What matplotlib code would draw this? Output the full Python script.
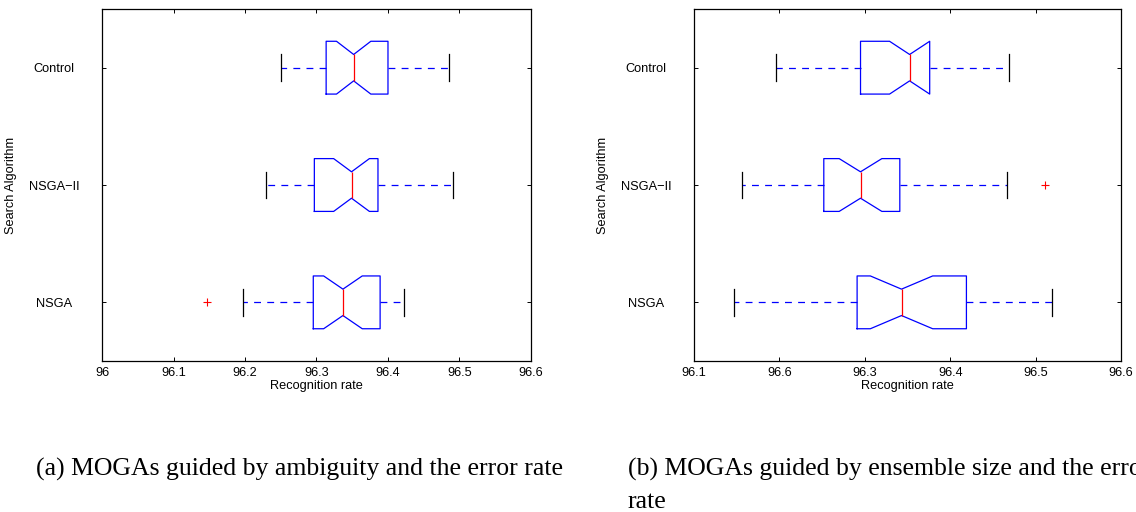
import matplotlib.pyplot as plt

# rows bottom to top
algorithms = ['NSGA', 'NSGA\u2212II', 'Control']

# (a) ambiguity + error rate
a_whislo = [96.197, 96.229, 96.251]
a_q1 = [96.2955, 96.297, 96.3135]
a_med = [96.337, 96.349, 96.352]
a_q3 = [96.389, 96.386, 96.400]
a_whishi = [96.423, 96.491, 96.485]
a_notch = [0.027, 0.025, 0.024]
a_fliers = [[96.147], [], []]
a_ticks = [96, 96.1, 96.2, 96.3, 96.4, 96.5, 96.6]
a_ticklabels = ['96', '96.1', '96.2', '96.3', '96.4', '96.5', '96.6']

# (b) ensemble size + error rate
b_whislo = [96.147, 96.156, 96.196]
b_q1 = [96.291, 96.252, 96.295]
b_med = [96.343, 96.295, 96.3525]
b_q3 = [96.419, 96.341, 96.376]
b_whishi = [96.519, 96.467, 96.469]
b_notch = [0.0365, 0.025, 0.0235]
b_fliers = [[], [96.511], []]
b_ticks = [96.1, 96.2, 96.3, 96.4, 96.5, 96.6]
b_ticklabels = ['96.1', '96.6', '96.3', '96.4', '96.5', '96.6']

caption_a = '(a) MOGAs guided by ambiguity and the error rate'
caption_b1 = '(b) MOGAs guided by ensemble size and the error'
caption_b2 = 'rate'

plt.rcParams['font.family'] = ['Liberation Sans', 'DejaVu Sans']


def make_stats(whislo, q1, med, q3, whishi, notch, fliers):
    stats = []
    for i in range(len(med)):
        stats.append({'whislo': whislo[i], 'q1': q1[i], 'med': med[i],
                      'q3': q3[i], 'whishi': whishi[i],
                      'cilo': med[i] - notch[i], 'cihi': med[i] + notch[i],
                      'fliers': fliers[i]})
    return stats


def draw_panel(ax, stats, ticks, ticklabels, xlim):
    ax.bxp(stats, positions=[1, 2, 3], widths=0.45, vert=False,
           shownotches=True, showfliers=True,
           boxprops=dict(color='blue', lw=0.9),
           whiskerprops=dict(color='blue', lw=0.9, linestyle=(0, (5.5, 5))),
           capprops=dict(color='black', lw=0.9),
           medianprops=dict(color='red', lw=0.9),
           flierprops=dict(marker='+', markeredgecolor='red',
                           markersize=6, markeredgewidth=0.8))
    ax.set_xlim(*xlim)
    ax.set_ylim(0.5, 3.5)
    ax.set_xticks(ticks)
    ax.set_xticklabels(ticklabels)
    ax.set_yticks([1, 2, 3])
    ax.set_yticklabels(algorithms)
    for lab in ax.get_yticklabels():
        lab.set_ha('center')
    ax.tick_params(axis='both', direction='in', length=3, width=0.7,
                   labelsize=9.2, top=True, right=True)
    ax.tick_params(axis='y', pad=34.5)
    ax.tick_params(axis='x', pad=4.3)
    for s in ax.spines.values():
        s.set_linewidth(0.9)
    ax.set_xlabel('Recognition rate', fontsize=9.2, labelpad=1)
    ax.set_ylabel('Search Algorithm', fontsize=9.2)
    ax.yaxis.set_label_coords(-0.198, 0.5)


fig = plt.figure(figsize=(11.36, 5.12), dpi=100)
ax1 = fig.add_axes([0.0898, 0.2949, 0.3776, 0.6875])
ax2 = fig.add_axes([0.6109, 0.2949, 0.3759, 0.6875])

draw_panel(ax1, make_stats(a_whislo, a_q1, a_med, a_q3, a_whishi, a_notch, a_fliers),
           a_ticks, a_ticklabels, (96.0, 96.6))
draw_panel(ax2, make_stats(b_whislo, b_q1, b_med, b_q3, b_whishi, b_notch, b_fliers),
           b_ticks, b_ticklabels, (96.1, 96.6))

serif = ['Liberation Serif', 'DejaVu Serif']
fig.text(36 / 1136, 1 - 476 / 512, caption_a, family=serif, fontsize=18.5,
         ha='left', va='baseline')
fig.text(628 / 1136, 1 - 476 / 512, caption_b1, family=serif, fontsize=18.5,
         ha='left', va='baseline')
fig.text(628 / 1136, 1 - 508 / 512, caption_b2, family=serif, fontsize=18.5,
         ha='left', va='baseline')

fig.savefig('out.png', dpi=100)
